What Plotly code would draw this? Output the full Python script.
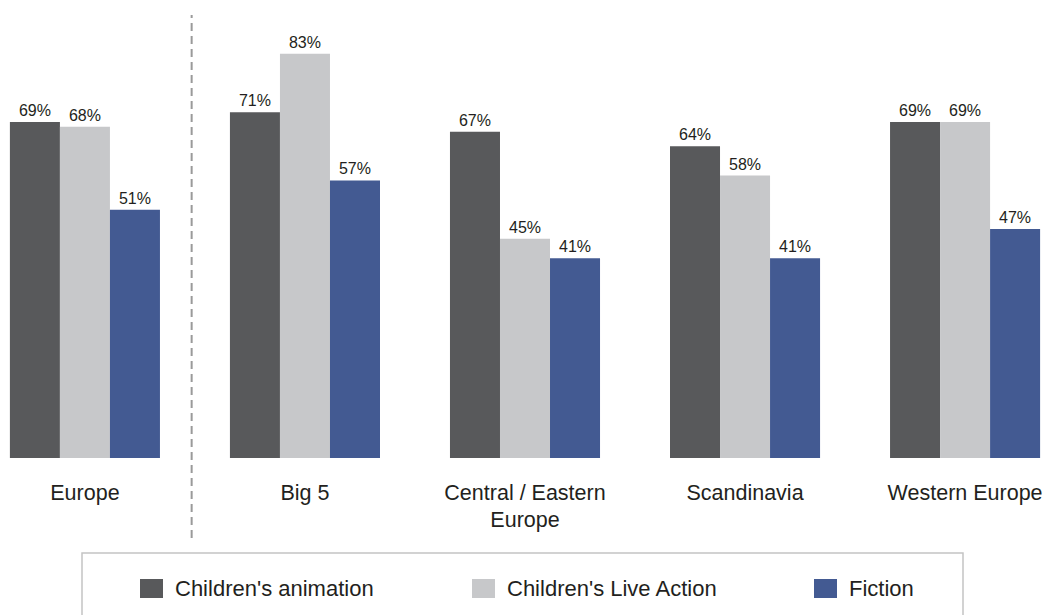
import plotly.graph_objects as go

categories = ["Europe", "Big 5", "Central / Eastern<br>Europe", "Scandinavia", "Western Europe"]
series_names = ["Children's animation", "Children's Live Action", "Fiction"]
animation = [69, 71, 67, 64, 69]
live_action = [68, 83, 45, 58, 69]
fiction = [51, 57, 41, 41, 47]
colors = ["#58595b", "#c7c8ca", "#435a92"]

FONT = "Liberation Sans, Arial, Helvetica, sans-serif"
W, H = 1050, 615
plot_h = 458
xpos = list(range(len(categories)))

fig = go.Figure()
for name, vals, col in zip(series_names, [animation, live_action, fiction], colors):
    fig.add_trace(go.Bar(
        x=xpos, y=vals, name=name, marker=dict(color=col, line=dict(width=0)),
        texttemplate="%{y}%", textposition="outside", cliponaxis=False,
        textfont=dict(size=16, color="#231f20", family=FONT),
    ))

fig.update_layout(
    width=W, height=H,
    margin=dict(l=0, r=0, t=0, b=H - plot_h, autoexpand=False),
    paper_bgcolor="white", plot_bgcolor="white",
    barmode="group", bargap=0.318, bargroupgap=0,
    font=dict(family=FONT, color="#231f20"),
    xaxis=dict(range=[-0.386, 4.386], tickvals=xpos, ticktext=categories,
               showgrid=False, zeroline=False, showline=False, ticks="", automargin=False,
               tickfont=dict(size=21.5, color="#231f20"), ticklabelstandoff=19),
    yaxis=dict(range=[0, plot_h / 4.87], visible=False, showgrid=False, automargin=False),
    showlegend=False,
)

def py(px):
    return (plot_h - px) / plot_h

# dashed separator
fig.add_shape(type="line", xref="x", yref="paper", x0=0.485, x1=0.485,
              y0=py(538), y1=py(15),
              line=dict(color="#9a9a9a", width=2, dash="8px,5px"))
# legend frame
fig.add_shape(type="rect", xref="paper", yref="paper", x0=82 / W, x1=963 / W,
              y0=py(640), y1=py(553),
              line=dict(color="#c4c4c4", width=1.5), fillcolor="rgba(0,0,0,0)")

# legend entries
sq_left = [140, 472, 814]
for name, col, sx in zip(series_names, colors, sq_left):
    fig.add_shape(type="rect", xref="paper", yref="paper",
                  x0=sx / W, x1=(sx + 23) / W, y0=py(598), y1=py(579),
                  line=dict(width=0), fillcolor=col)
    fig.add_annotation(xref="paper", yref="paper", x=(sx + 33) / W, y=py(588.5),
                       xanchor="left", yanchor="middle", showarrow=False, text=name,
                       font=dict(size=22, color="#231f20", family=FONT))

fig.write_html("out.html", config={"displayModeBar": False},
               post_script="document.body.style.margin='0';document.body.style.overflow='hidden';")
